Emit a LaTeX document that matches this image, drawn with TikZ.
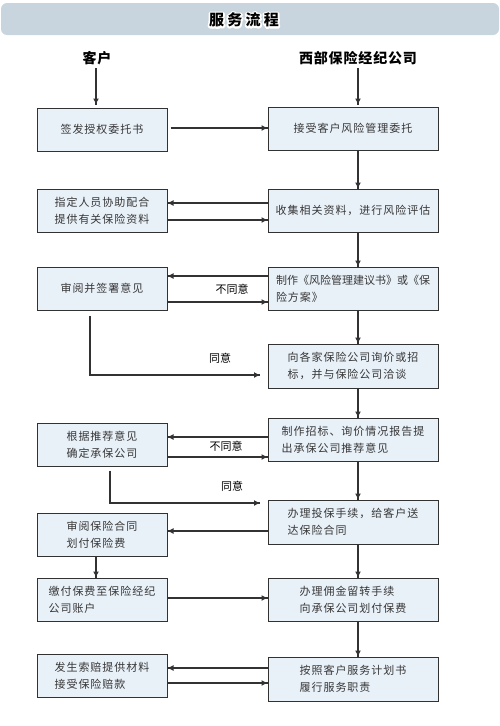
\documentclass[tikz,border=0pt]{standalone}
\usepackage{fontspec}
\setmainfont{Noto Sans CJK SC}
\newfontfamily\boxfont[LetterSpace=9]{Noto Sans CJK SC}
\newfontfamily\headfont[LetterSpace=6]{Noto Sans CJK SC}
\newfontfamily\titlefont[LetterSpace=22]{Noto Sans CJK SC}
\usetikzlibrary{positioning,arrows.meta,decorations.markings}
\definecolor{barfill}{RGB}{200,213,222}
\definecolor{boxfill}{RGB}{232,240,248}
\definecolor{boxtext}{RGB}{55,55,55}
\definecolor{linegray}{RGB}{50,50,50}
\tikzset{myarr/.style={decoration={markings,mark=at position 1 with %
    {\arrow{Latex[length=6pt,width=6pt]}}},postaction={decorate}}}
\tikzset{line/.style={draw=linegray,line width=1.1pt,myarr}}
\tikzset{vline/.style={line,line width=1.6pt}}
\tikzset{box/.style={draw=linegray,line width=1pt,fill=boxfill,minimum width=130pt,%
    minimum height=43pt,inner sep=0pt,align=left,text=boxtext,%
    font=\boxfont\fontsize{11}{17}\selectfont}}
\tikzset{rbox/.style={box,minimum width=170pt}}
\tikzset{head/.style={font=\headfont\bfseries\fontsize{14}{14}\selectfont}}
\tikzset{lbl/.style={font=\fontsize{11}{11}\selectfont,text=black,inner sep=0pt}}
\tikzset{titletxt/.style={font=\titlefont\bfseries\fontsize{15}{15}\selectfont,inner sep=0pt}}
% white outline under the title text
\newcommand{\haloon}{\special{pdf:literal direct 1 j 3.4 w 1 1 1 RG 2 Tr}}
\newcommand{\halooff}{\special{pdf:literal direct 0 Tr}}

\begin{document}
\begin{tikzpicture}[x=1pt,y=-1pt]

	  \useasboundingbox (0,0) rectangle (500,726);

	  % title bar
	  \node [fill=barfill,rounded corners=6pt,minimum width=498pt,minimum height=32pt,inner sep=0pt] (bar) at (250,19) {};
	  \coordinate (tc) at (244,20);
	  \node [titletxt,text=white] (halo) at (tc) {\haloon 服务流程\halooff};
	  \node [titletxt,text=black] (title) at (tc) {服务流程};

	  % headers
	  \node [head] (hc) at (97,58) {客户};
	  \node [head] (hw) at (358,58) {西部保险经纪公司};
	  \coordinate (lx) at (96,0);
	  \coordinate (rx) at (358,0);

	  % boxes
	  \node [box] (l1) at (102,129.5) {签发授权委托书};
	  \node [rbox] (r1) at (353,128.5) {接受客户风险管理委托};
	  \node [box] (l2) at (102,210.5) {指定人员协助配合\\提供有关保险资料};
	  \node [rbox] (r2) at (353,210.5) {收集相关资料，进行风险评估};
	  \node [box] (l3) at (102,288.5) {审阅并签署意见};
	  \node [rbox] (r3) at (353,288.5) {\addfontfeature{LetterSpace=0}制作《风险管理建议书》或《保\\险方案》};
	  \node [rbox,minimum height=44pt] (r4) at (353,366) {向各家保险公司询价或招\\标，并与保险公司洽谈};
	  \node [rbox] (r5) at (353,439.5) {制作招标、询价情况报告提\\出承保公司推荐意见};
	  \node [box] (l5) at (102,444.5) {根据推荐意见\\确定承保公司};
	  \node [rbox,minimum height=44pt] (r6) at (353,522) {办理投保手续，给客户送\\达保险合同};
	  \node [box] (l6) at (102,534.5) {审阅保险合同\\划付保险费};
	  \node [box] (l7) at (102,599.5) {缴付保费至保险经纪\\公司账户};
	  \node [rbox] (r7) at (353,599.5) {办理佣金留转手续\\向承保公司划付保费};
	  \node [rbox,minimum height=44pt] (r8) at (353,679) {按照客户服务计划书\\履行服务职责};
	  \node [box] (l8) at (102,675.5) {发生索赔提供材料\\接受保险赔款};

	  % labels
	  \node [lbl] (no1) at (232,289) {不同意};
	  \node [lbl] (yes1) at (220,358) {同意};
	  \node [lbl] (no2) at (226,446) {不同意};
	  \node [lbl] (yes2) at (232,486) {同意};

	  % vertical connectors
	  \draw [vline] (hc.south -| lx) -- ([yshift=3pt]l1.north -| lx);
	  \draw [vline] (hw.south -| rx) -- ([yshift=2pt]r1.north -| rx);
	  \foreach \a/\b in {r1/r2,r2/r3,r3/r4,r4/r5,r5/r6,r6/r7,r7/r8}
	    \draw [vline] (\a.south -| rx) -- (\b.north -| rx);
	  \draw [vline] (l6.south -| lx) -- (l7.north -| lx);

	  % horizontal connectors
	  \draw [line,shorten <=3pt] (l1.east |- 0,128) -- (r1.west |- 0,128);
	  \draw [line] (r2.west |- 0,203) -- (l2.east |- 0,203);
	  \draw [line] (l2.east |- 0,220) -- (r2.west |- 0,220);
	  \draw [line] (r3.west |- 0,276) -- (l3.east |- 0,276);
	  \draw [line] (l3.east |- 0,302) -- (r3.west |- 0,302);
	  \draw [line] (r5.west |- 0,437) -- (l5.east |- 0,437);
	  \draw [line] (l5.east |- 0,457) -- (r5.west |- 0,457);
	  \draw [line] (r6.west |- 0,531) -- (l6.east |- 0,531);
	  \draw [line] (l7.east |- 0,598) -- (r7.west |- 0,598);
	  \draw [line] (r8.west |- 0,668) -- (l8.east |- 0,668);
	  \draw [line] (l8.east |- 0,683) -- (r8.west |- 0,683);

	  % agree paths
	  \coordinate (agree1) at (260,375);
	  \coordinate (agree2) at (260,503);
	  \draw [line] ([xshift=-12pt,yshift=-5pt]l3.south) |- (agree1);
	  \draw [line] ([xshift=8pt,yshift=-4pt]l5.south) |- (agree2);

\end{tikzpicture}
\end{document}
